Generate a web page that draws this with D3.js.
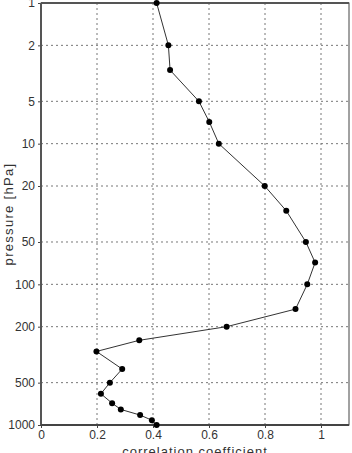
<!DOCTYPE html>
<html>
<head>
<meta charset="utf-8">
<script src="https://cdn.jsdelivr.net/npm/d3@7"></script>
<style>
  body { margin: 0; background: #fff; }
  svg { display: block; font-family: "Liberation Sans", Arial, sans-serif; }
</style>
</head>
<body>
<div id="chart"></div>
<script>
// correlation coefficient per pressure level
const pressure = [1, 2, 3, 5, 7, 10, 20, 30, 50, 70, 100, 150, 200, 250, 300, 400, 500, 600, 700, 775, 850, 925, 1000];
const corr = [0.413, 0.455, 0.461, 0.564, 0.601, 0.635, 0.799, 0.876, 0.946, 0.979, 0.951, 0.909, 0.663, 0.351, 0.198, 0.290, 0.246, 0.214, 0.254, 0.285, 0.354, 0.396, 0.413];

const yTicks = [1, 2, 5, 10, 20, 50, 100, 200, 500, 1000];
const xTicks = [0, 0.2, 0.4, 0.6, 0.8, 1];

const data = pressure.map((p, i) => ({ p, r: corr[i] }));

const W = 352, H = 453;
const margin = { top: 3, right: 3, bottom: 28, left: 41 };
const width = W - margin.left - margin.right;
const height = H - margin.top - margin.bottom;

const svg = d3.select("#chart").append("svg")
  .attr("width", W)
  .attr("height", H);

const g = svg.append("g")
  .attr("transform", `translate(${margin.left},${margin.top})`);

const x = d3.scaleLinear().domain([0, 1.1]).range([0, width]);
const y = d3.scaleLog().domain([1, 1000]).range([0, height]);

// grid
g.selectAll(".hgrid")
  .data(yTicks.filter(d => d !== 1 && d !== 1000))
  .enter().append("line")
  .attr("x1", 0).attr("x2", width)
  .attr("y1", d => y(d)).attr("y2", d => y(d))
  .attr("stroke", "#777")
  .attr("stroke-dasharray", "2,3");

g.selectAll(".vgrid")
  .data(xTicks.filter(d => d !== 0))
  .enter().append("line")
  .attr("y1", 0).attr("y2", height)
  .attr("x1", d => x(d)).attr("x2", d => x(d))
  .attr("stroke", "#777")
  .attr("stroke-dasharray", "2,3");

// axes
const yAxis = d3.axisLeft(y)
  .tickValues(yTicks)
  .tickFormat(d3.format("d"))
  .tickSize(3)
  .tickPadding(3);

const xAxis = d3.axisBottom(x)
  .tickValues(xTicks)
  .tickFormat(d => d === 0 || d === 1 ? String(d) : d.toFixed(1))
  .tickSize(3)
  .tickPadding(2);

const ya = g.append("g").call(yAxis);
const xa = g.append("g").attr("transform", `translate(0,${height})`).call(xAxis);

[ya, xa].forEach(a => {
  a.select(".domain").remove();
  a.selectAll("line").attr("stroke", "#444");
  a.selectAll("text")
    .attr("fill", "#333")
    .style("font-size", "12px");
});

// frame
g.append("rect")
  .attr("width", width)
  .attr("height", height)
  .attr("fill", "none")
  .attr("stroke", "#444")
  .attr("stroke-width", 1);
g.append("line")
  .attr("x1", 0).attr("x2", 0).attr("y1", 0).attr("y2", height)
  .attr("stroke", "#555").attr("stroke-width", 2);
g.append("line")
  .attr("x1", 0).attr("x2", width).attr("y1", height).attr("y2", height)
  .attr("stroke", "#444").attr("stroke-width", 2);
g.append("line")
  .attr("x1", 0).attr("x2", width).attr("y1", 0).attr("y2", 0)
  .attr("stroke", "#555").attr("stroke-width", 2);

// profile line
const line = d3.line()
  .x(d => x(d.r))
  .y(d => y(d.p));

g.append("path")
  .datum(data)
  .attr("d", line)
  .attr("fill", "none")
  .attr("stroke", "#333")
  .attr("stroke-width", 1);

g.selectAll(".pt")
  .data(data)
  .enter().append("circle")
  .attr("cx", d => x(d.r))
  .attr("cy", d => y(d.p))
  .attr("r", 3)
  .attr("fill", "#000");

// labels
svg.append("text")
  .attr("x", margin.left + width / 2)
  .attr("y", H + 3)
  .attr("text-anchor", "middle")
  .style("font-size", "13px")
  .style("letter-spacing", "1px")
  .attr("fill", "#333")
  .text("correlation  coefficient");

svg.append("text")
  .attr("transform", `translate(13,${margin.top + height / 2}) rotate(-90)`)
  .attr("text-anchor", "middle")
  .style("font-size", "13px")
  .style("letter-spacing", "1.3px")
  .attr("fill", "#333")
  .text("pressure  [hPa]");
</script>
</body>
</html>
